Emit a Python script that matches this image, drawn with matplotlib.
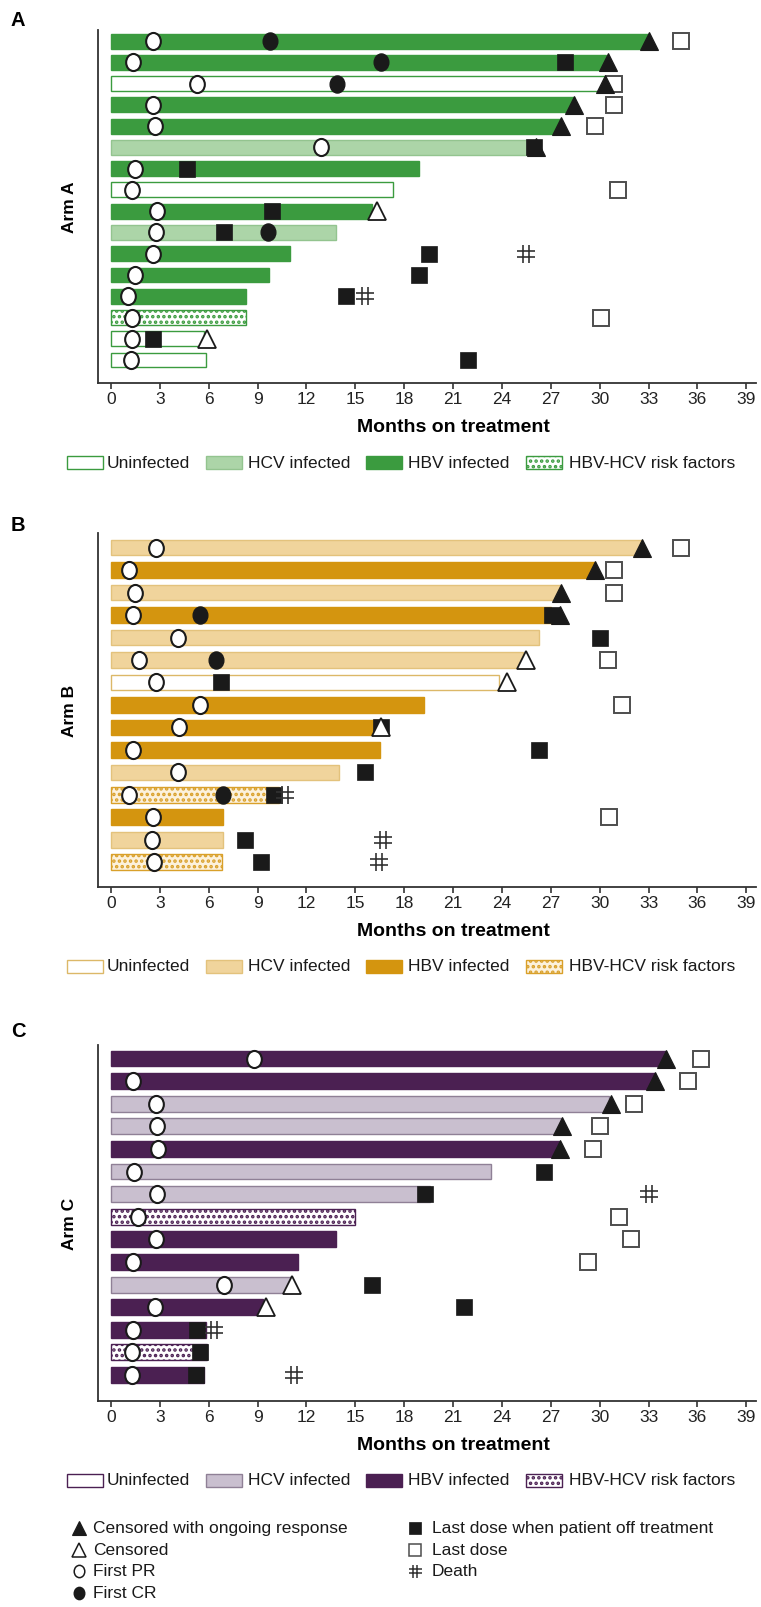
import numpy as np
import matplotlib.pyplot as plt
from matplotlib.path import Path
from matplotlib.transforms import Affine2D
from matplotlib.patches import Rectangle

plt.rcParams['font.family'] = ['Liberation Sans', 'DejaVu Sans']
plt.rcParams['hatch.linewidth'] = 1.7

nan = np.nan

# ---- Arm A ----
a_status = ['HBV', 'HBV', 'Uninfected', 'HBV', 'HBV', 'HCV', 'HBV', 'Uninfected',
            'HBV', 'HCV', 'HBV', 'HBV', 'HBV', 'Risk', 'Uninfected', 'Uninfected']
a_months = [33.0, 30.4, 30.8, 28.4, 27.6, 25.8, 18.9, 17.3, 16.0, 13.8, 11.0, 9.7, 8.3, 8.3, 5.7, 5.8]
a_pr = [2.6, 1.35, 5.3, 2.55, 2.7, 12.9, 1.45, 1.3, 2.8, 2.75, 2.6, 1.45, 1.05, 1.3, 1.3, 1.2]
a_cr = [9.75, 16.6, 13.9, nan, nan, nan, nan, nan, nan, 9.65, nan, nan, nan, nan, nan, nan]
a_off = [nan, 27.9, nan, nan, nan, 26.0, 4.65, nan, 9.9, 6.95, 19.5, 18.9, 14.4, nan, 2.55, 21.9]
a_last = [35.0, nan, 30.9, 30.9, 29.7, nan, nan, 31.1, nan, nan, nan, nan, nan, 30.1, nan, nan]
a_ongoing = [33.0, 30.5, 30.3, 28.45, 27.6, 26.1, nan, nan, nan, nan, nan, nan, nan, nan, nan, nan]
a_censored = [nan, nan, nan, nan, nan, nan, nan, nan, 16.35, nan, nan, nan, nan, nan, 5.9, nan]
a_death = [nan, nan, nan, nan, nan, nan, nan, nan, nan, nan, 25.5, nan, 15.6, nan, nan, nan]

# ---- Arm B ----
b_status = ['HCV', 'HBV', 'HCV', 'HBV', 'HCV', 'HCV', 'Uninfected', 'HBV',
            'HBV', 'HBV', 'HCV', 'Risk', 'HBV', 'HCV', 'Risk']
b_months = [32.6, 29.7, 27.55, 27.0, 26.3, 25.3, 23.8, 19.2, 16.5, 16.5, 14.0, 10.3, 6.9, 6.9, 6.8]
b_pr = [2.73, 1.1, 1.45, 1.33, 4.1, 1.7, 2.73, 5.45, 4.15, 1.35, 4.1, 1.1, 2.6, 2.5, 2.65]
b_cr = [nan, nan, nan, 5.45, nan, 6.45, nan, nan, nan, nan, nan, 6.9, nan, nan, nan]
b_off = [nan, nan, nan, 27.1, 30.05, nan, 6.75, nan, 16.6, 26.3, 15.6, 10.0, nan, 8.2, 9.2]
b_last = [35.0, 30.9, 30.9, nan, nan, 30.5, nan, 31.4, nan, nan, nan, nan, 30.6, nan, nan]
b_ongoing = [32.6, 29.7, 27.6, 27.55, nan, nan, nan, nan, nan, nan, nan, nan, nan, nan, nan]
b_censored = [nan, nan, nan, nan, nan, 25.45, 24.3, nan, 16.6, nan, nan, nan, nan, nan, nan]
b_death = [nan, nan, nan, nan, nan, nan, nan, nan, nan, nan, nan, 10.7, nan, 16.7, 16.45]

# ---- Arm C ----
c_status = ['HBV', 'HBV', 'HCV', 'HCV', 'HBV', 'HCV', 'HCV', 'Risk',
            'HBV', 'HBV', 'HCV', 'HBV', 'HBV', 'Risk', 'HBV']
c_months = [34.1, 33.4, 30.6, 27.6, 27.5, 23.3, 19.6, 15.0, 13.8, 11.5, 11.1, 9.3, 5.8, 5.9, 5.7]
c_pr = [8.75, 1.35, 2.75, 2.8, 2.9, 1.4, 2.8, 1.65, 2.75, 1.35, 6.95, 2.7, 1.35, 1.3, 1.3]
c_cr = [nan] * 15
c_off = [nan, nan, nan, nan, nan, 26.6, 19.25, nan, nan, nan, 16.05, 21.7, 5.3, 5.45, 5.2]
c_last = [36.2, 35.4, 32.1, 30.0, 29.6, nan, nan, 31.2, 31.9, 29.3, nan, nan, nan, nan, nan]
c_ongoing = [34.1, 33.4, 30.7, 27.7, 27.55, nan, nan, nan, nan, nan, nan, nan, nan, nan, nan]
c_censored = [nan, nan, nan, nan, nan, nan, nan, nan, nan, nan, 11.1, 9.5, nan, nan, nan]
c_death = [nan, nan, nan, nan, nan, nan, 33.0, nan, nan, nan, nan, nan, 6.3, nan, 11.25]

# face, edge, hatch for each group
a_colors = {'Uninfected': ('white', '#3b9b3f', None), 'HCV': ('#acd5a8', '#93c48f', None),
            'HBV': ('#3b9b3f', '#3b9b3f', None), 'Risk': ('white', '#3b9b3f', '...')}
b_colors = {'Uninfected': ('white', '#dcb868', None), 'HCV': ('#f0d49c', '#e3c27c', None),
            'HBV': ('#d4950f', '#d4950f', None), 'Risk': ('#fcf1dc', '#d9a02a', '...')}
c_colors = {'Uninfected': ('white', '#4b2052', None), 'HCV': ('#c9bfcf', '#8f8096', None),
            'HBV': ('#4b2052', '#4b2052', None), 'Risk': ('white', '#4b2052', '...')}

groups = ['Uninfected', 'HCV', 'HBV', 'Risk']
group_labels = ['Uninfected', 'HCV infected', 'HBV infected', 'HBV-HCV risk factors']
xticks = np.arange(0, 40, 3)

W, H = 761, 1608
fig = plt.figure(figsize=(W / 100, H / 100), dpi=100)
fig.patch.set_facecolor('white')

# overlay in pixel coordinates for labels and legends
pax = fig.add_axes([0, 0, 1, 1])
pax.set_xlim(0, W)
pax.set_ylim(H, 0)
pax.axis('off')

ink = '#1a1a1a'
ellipse = Path.unit_circle().transformed(Affine2D().scale(0.86, 1.0))
hash_mark = Path([(-0.28, -1), (-0.28, 1), (0.28, -1), (0.28, 1),
                  (-1, -0.32), (1, -0.32), (-1, 0.32), (1, 0.32)],
                 [Path.MOVETO, Path.LINETO] * 4)

styles = {
    'off': dict(marker='s', ms=11.5, mfc=ink, mec=ink, mew=0.5, zorder=3),
    'last': dict(marker='s', ms=11.5, mfc='white', mec='#4d4d4d', mew=1.4, zorder=3),
    'pr': dict(marker=ellipse, ms=12.3, mfc='white', mec=ink, mew=1.5, zorder=4),
    'cr': dict(marker=ellipse, ms=12.3, mfc=ink, mec=ink, mew=1.0, zorder=4),
    'ongoing': dict(marker='^', ms=13.5, mfc=ink, mec=ink, mew=0.8, zorder=5),
    'censored': dict(marker='^', ms=13.5, mfc='white', mec=ink, mew=1.3, zorder=5),
    'death': dict(marker=hash_mark, ms=13, mfc='none', mec='#333333', mew=1.2, zorder=5),
}


def draw_arm(box, ylim, letter_y, arm, letter, status, months, colors, events):
    left, top, right, bottom = box
    ax = fig.add_axes([left / W, 1 - bottom / H, (right - left) / W, (bottom - top) / H])
    rows = np.arange(len(status))
    bars = ax.barh(rows, months, height=0.7, left=0, zorder=2, linewidth=1.0,
                   color=[colors[s][0] for s in status],
                   edgecolor=[colors[s][1] for s in status])
    for b, s in zip(bars, status):
        if colors[s][2]:
            b.set_hatch(colors[s][2])
    for key, xs in events.items():
        ax.plot(np.asarray(xs, float), rows, linestyle='none', **styles[key])

    ax.set_xlim(-0.77, 39.6)
    ax.set_ylim(*ylim)
    ax.set_yticks([])
    ax.set_xticks(xticks)
    ax.tick_params(axis='x', direction='out', length=4, width=1.2, color='#333333',
                   labelsize=12.5, labelcolor='#222222', pad=2)
    for sp in ['top', 'right']:
        ax.spines[sp].set_visible(False)
    for sp in ['left', 'bottom']:
        ax.spines[sp].set_linewidth(1.3)
        ax.spines[sp].set_color('#333333')
    ax.patch.set_alpha(0)

    pax.text(18, letter_y, letter, fontsize=14.5, fontweight='bold', ha='center', va='center')
    pax.text(69, (top + bottom) / 2, arm, fontsize=12.5, fontweight='bold', rotation=90,
             ha='center', va='center')
    pax.text(453, bottom + 44, 'Months on treatment', fontsize=14, fontweight='bold',
             ha='center', va='center')

    # group legend
    ly = bottom + 79
    for g, lab, bx, tx in zip(groups, group_labels, [67, 206, 366, 526], [107, 248, 408, 569]):
        face, edge, hatch = colors[g]
        pax.add_patch(Rectangle((bx, ly - 6.5), 36, 13, facecolor=face, edgecolor=edge,
                                hatch=hatch, linewidth=1.0))
        pax.text(tx, ly, lab, fontsize=12.5, ha='left', va='center', color='#1a1a1a')
    return ax


draw_arm((98.5, 31, 756, 384), (16.08, -0.52), 21, 'Arm A', 'A', a_status, a_months, a_colors,
         {'off': a_off, 'last': a_last, 'pr': a_pr, 'cr': a_cr, 'ongoing': a_ongoing,
          'censored': a_censored, 'death': a_death})
draw_arm((98.5, 534, 756, 888), (15.1, -0.65), 526, 'Arm B', 'B', b_status, b_months, b_colors,
         {'off': b_off, 'last': b_last, 'pr': b_pr, 'cr': b_cr, 'ongoing': b_ongoing,
          'censored': b_censored, 'death': b_death})
draw_arm((98.5, 1046, 756, 1402), (15.15, -0.6), 1032, 'Arm C', 'C', c_status, c_months, c_colors,
         {'off': c_off, 'last': c_last, 'pr': c_pr, 'cr': c_cr, 'ongoing': c_ongoing,
          'censored': c_censored, 'death': c_death})

# symbol legend
sym_left = [('ongoing', 'Censored with ongoing response'), ('censored', 'Censored'),
            ('pr', 'First PR'), ('cr', 'First CR')]
sym_right = [('off', 'Last dose when patient off treatment'), ('last', 'Last dose'),
             ('death', 'Death')]
rows_y = [1529, 1551, 1572, 1594]
for items, mx, tx in [(sym_left, 79, 93), (sym_right, 415, 432)]:
    for (key, lab), y in zip(items, rows_y):
        st = dict(styles[key])
        st['ms'] = st['ms'] * 0.72
        st['mew'] = min(st['mew'], 1.1)
        pax.plot([mx], [y], linestyle='none', **st)
        pax.text(tx, y, lab, fontsize=12.5, ha='left', va='center', color='#1a1a1a')

fig.savefig('out.png', dpi=100, facecolor='white')
